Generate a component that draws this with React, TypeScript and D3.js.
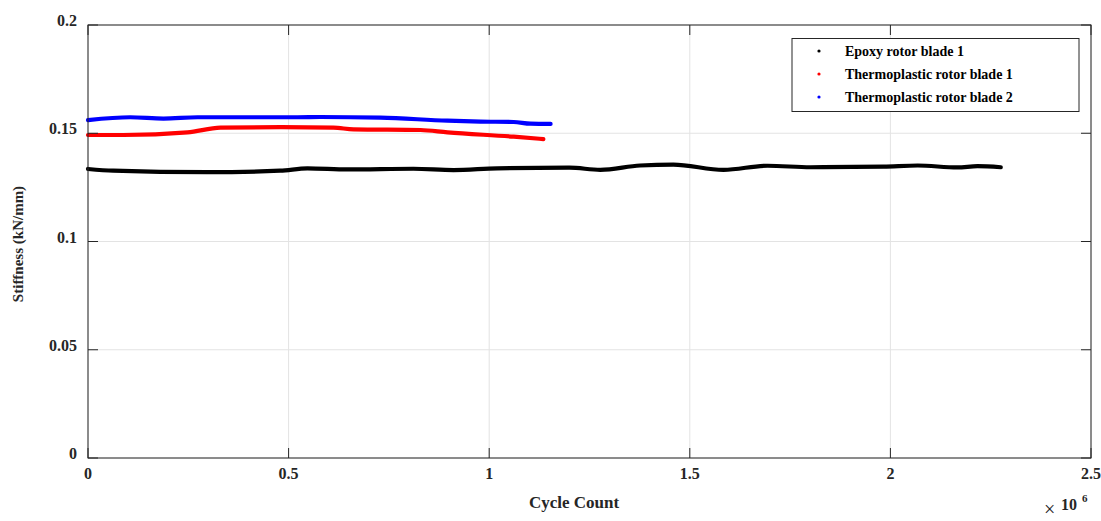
import React from "react";
import * as d3 from "d3";

const xTicks = [0, 0.5e6, 1e6, 1.5e6, 2e6, 2.5e6];
const xTickLabels = ["0", "0.5", "1", "1.5", "2", "2.5"];
const yTicks = [0, 0.05, 0.1, 0.15, 0.2];
const yTickLabels = ["0", "0.05", "0.1", "0.15", "0.2"];

const epoxyX = [0, 0.063e6, 0.297e6, 0.479e6, 0.547e6, 0.647e6, 0.811e6, 0.911e6, 1.02e6, 1.2e6, 1.277e6, 1.376e6, 1.459e6, 1.584e6, 1.694e6, 1.801e6, 1.983e6, 2.068e6, 2.167e6, 2.217e6, 2.275e6];
const epoxyY = [0.1335, 0.1327, 0.132, 0.1327, 0.1338, 0.1333, 0.1336, 0.133, 0.1338, 0.1341, 0.1331, 0.1351, 0.1355, 0.1331, 0.135, 0.1343, 0.1346, 0.1351, 0.1342, 0.1348, 0.1343];

const tp1X = [0, 0.088e6, 0.248e6, 0.33e6, 0.48e6, 0.612e6, 0.662e6, 0.829e6, 0.896e6, 1.061e6, 1.135e6];
const tp1Y = [0.1492, 0.1492, 0.1504, 0.1526, 0.1528, 0.1526, 0.1518, 0.1515, 0.1504, 0.1484, 0.1473];

const tp2X = [0, 0.105e6, 0.188e6, 0.273e6, 0.522e6, 0.579e6, 0.729e6, 0.896e6, 0.978e6, 1.061e6, 1.103e6, 1.153e6];
const tp2Y = [0.1561, 0.1574, 0.1568, 0.1574, 0.1574, 0.1575, 0.1572, 0.1558, 0.1554, 0.1552, 0.1544, 0.1543];

const seriesNames = ["Epoxy rotor blade 1", "Thermoplastic rotor blade 1", "Thermoplastic rotor blade 2"];
const seriesColors = ["#000000", "#ff0000", "#0000ff"];

const W = 1101;
const H = 521;
const left = 88;
const right = 1091;
const top = 25;
const bottom = 458;
const font = "'Liberation Serif', 'Times New Roman', serif";

export default function App() {
  const x = d3.scaleLinear().domain([0, 2.5e6]).range([left, right]);
  const y = d3.scaleLinear().domain([0, 0.2]).range([bottom, top]);
  const line = d3
    .line<[number, number]>()
    .x((d) => x(d[0]))
    .y((d) => y(d[1]))
    .curve(d3.curveMonotoneX);

  const series = [
    d3.zip(epoxyX, epoxyY) as [number, number][],
    d3.zip(tp1X, tp1Y) as [number, number][],
    d3.zip(tp2X, tp2Y) as [number, number][],
  ];

  const axisColor = "#262626";
  const gridColor = "#e3e3e3";
  const tickLen = 10;

  return (
    <svg
      width={W}
      height={H}
      style={{ position: "absolute", left: 0, top: 0, background: "#fff" }}
      fontFamily={font}
    >
      <rect x={0} y={0} width={W} height={H} fill="#fff" />
      {xTicks.map((t, i) => (
        <line key={"gx" + i} x1={x(t)} x2={x(t)} y1={top} y2={bottom} stroke={gridColor} strokeWidth={1} />
      ))}
      {yTicks.map((t, i) => (
        <line key={"gy" + i} x1={left} x2={right} y1={y(t)} y2={y(t)} stroke={gridColor} strokeWidth={1} />
      ))}
      {series.map((s, i) => (
        <path
          key={"s" + i}
          d={line(s) || ""}
          fill="none"
          stroke={seriesColors[i]}
          strokeWidth={4.2}
          strokeLinecap="round"
          strokeLinejoin="round"
        />
      ))}
      <rect x={left} y={top} width={right - left} height={bottom - top} fill="none" stroke={axisColor} strokeWidth={1} />
      {xTicks.map((t, i) => (
        <g key={"tx" + i}>
          <line x1={x(t)} x2={x(t)} y1={bottom} y2={bottom - tickLen} stroke={axisColor} />
          <line x1={x(t)} x2={x(t)} y1={top} y2={top + tickLen} stroke={axisColor} />
          <text x={x(t)} y={bottom + 21} textAnchor="middle" fontSize={16} fontWeight="bold" fill="#262626">
            {xTickLabels[i]}
          </text>
        </g>
      ))}
      {yTicks.map((t, i) => (
        <g key={"ty" + i}>
          <line x1={left} x2={left + tickLen} y1={y(t)} y2={y(t)} stroke={axisColor} />
          <line x1={right} x2={right - tickLen} y1={y(t)} y2={y(t)} stroke={axisColor} />
          <text x={left - 11} y={y(t) + 1} textAnchor="end" fontSize={16} fontWeight="bold" fill="#262626">
            {yTickLabels[i]}
          </text>
        </g>
      ))}
      <text x={574} y={508} textAnchor="middle" fontSize={17} fontWeight="bold" fill="#262626">
        Cycle Count
      </text>
      <text
        transform={`translate(23, 244) rotate(-90)`}
        textAnchor="middle"
        fontSize={15}
        fontWeight="bold"
        fill="#262626"
      >
        Stiffness (kN/mm)
      </text>
      <text x={1044} y={516} fontSize={20} fill="#262626">×</text>
      <text x={1061} y={510} fontSize={16} fontWeight="bold" fill="#262626">10</text>
      <text x={1082} y={502} fontSize={11} fontWeight="bold" fill="#262626">6</text>
      <rect x={792} y={38.5} width={287} height={73} fill="#fff" stroke={axisColor} strokeWidth={1} />
      {seriesNames.map((n, i) => (
        <g key={"lg" + i}>
          <circle cx={819} cy={51 + i * 23} r={1.6} fill={seriesColors[i]} />
          <text x={845} y={55.5 + i * 23} fontSize={14} fontWeight="bold" fill="#000">
            {n}
          </text>
        </g>
      ))}
    </svg>
  );
}
